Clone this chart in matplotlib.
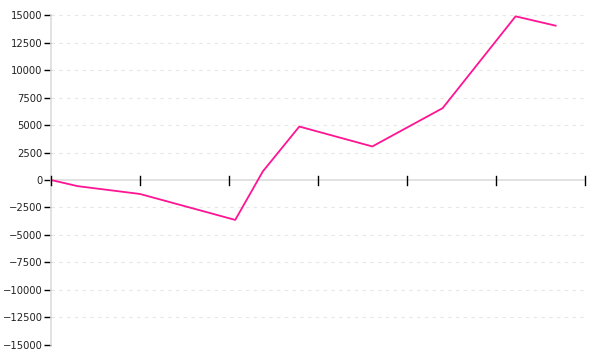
import matplotlib
matplotlib.use("Agg")
import matplotlib.pyplot as plt

# values (x in tick units, 7 ticks 0..6)
x_vals = [0, 0.30, 1.0, 2.07, 2.38, 2.79, 3.61, 4.40, 5.22, 5.67]
y_vals = [0, -560, -1270, -3630, 780, 4860, 3050, 6530, 14880, 14030]
x_ticks = [0, 1, 2, 3, 4, 5, 6]
y_ticks = list(range(-15000, 15001, 2500))

fig = plt.figure(figsize=(6, 3.6), dpi=100)
ax = fig.add_axes([0.085, 0.0417, 0.89, 0.9166])

for yt in y_ticks:
    if yt != 0:
        ax.axhline(yt, color="#e6e6e6", lw=0.8, ls=(0, (3, 4)), zorder=0)
ax.axhline(0, color="#dddddd", lw=1.2, zorder=1)

ax.plot(x_vals, y_vals, color="#ff1493", lw=1.3, zorder=3)

ax.set_xlim(0, 6)
ax.set_ylim(-15000, 15000)
ax.set_yticks(y_ticks)
ax.set_yticklabels([str(v).replace("-", "\u2212") for v in y_ticks])
ax.tick_params(axis="y", direction="out", length=5, width=1, color="black",
               labelsize=7.2, labelcolor="#222222", pad=1)

ax.set_xticks(x_ticks)
ax.set_xticklabels([])
ax.tick_params(axis="x", length=0)
for xt in x_ticks:
    ax.plot([xt, xt], [-500, 330], color="black", lw=1, zorder=5, clip_on=False)

for s in ["top", "right", "bottom"]:
    ax.spines[s].set_visible(False)
ax.spines["left"].set_color("#dddddd")
ax.spines["left"].set_linewidth(1.2)

fig.savefig("out.png")
